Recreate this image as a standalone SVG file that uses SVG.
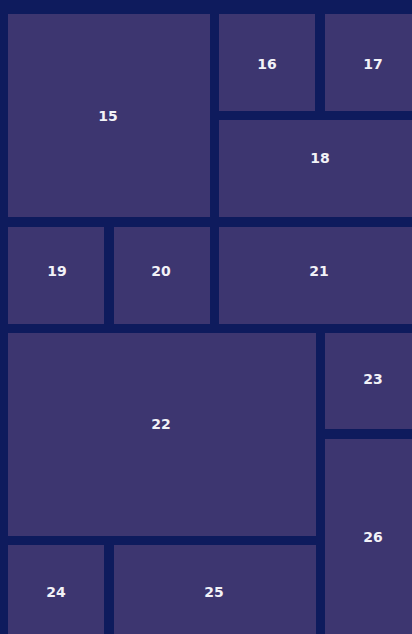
<svg xmlns="http://www.w3.org/2000/svg" width="412" height="634" viewBox="0 0 412 634">
<style>
.n{fill:#3d3670}
.t{fill:#f2f2f7;font-family:"DejaVu Sans","Liberation Sans",sans-serif;font-weight:bold;font-size:14px;text-anchor:middle;dominant-baseline:central}
</style>
<rect width="412" height="634" fill="#0e1b5d"/>
<g id="n15"><rect class="n" x="8" y="14" width="202" height="203"/><text class="t" x="108" y="116">15</text></g>
<g id="n16"><rect class="n" x="219" y="14" width="96" height="97"/><text class="t" x="267" y="64">16</text></g>
<g id="n17"><rect class="n" x="325" y="14" width="96" height="97"/><text class="t" x="373" y="64">17</text></g>
<g id="n18"><rect class="n" x="219" y="120" width="202" height="97"/><text class="t" x="320" y="158">18</text></g>
<g id="n19"><rect class="n" x="8" y="227" width="96" height="97"/><text class="t" x="57" y="271">19</text></g>
<g id="n20"><rect class="n" x="114" y="227" width="96" height="97"/><text class="t" x="161" y="271">20</text></g>
<g id="n21"><rect class="n" x="219" y="227" width="202" height="97"/><text class="t" x="319" y="271">21</text></g>
<g id="n22"><rect class="n" x="8" y="333" width="308" height="203"/><text class="t" x="161" y="424">22</text></g>
<g id="n23"><rect class="n" x="325" y="333" width="96" height="96"/><text class="t" x="373" y="379">23</text></g>
<g id="n24"><rect class="n" x="8" y="545" width="96" height="95"/><text class="t" x="56" y="592">24</text></g>
<g id="n25"><rect class="n" x="114" y="545" width="202" height="95"/><text class="t" x="214" y="592">25</text></g>
<g id="n26"><rect class="n" x="325" y="439" width="96" height="201"/><text class="t" x="373" y="537">26</text></g>
<g id="connectors"></g>
</svg>
